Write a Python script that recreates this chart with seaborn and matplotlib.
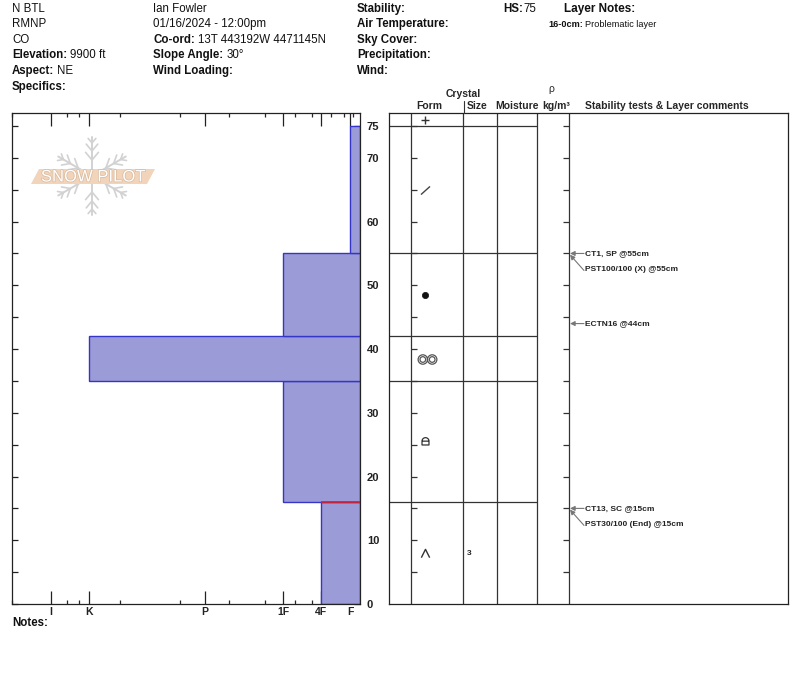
import numpy as np
import pandas as pd
import matplotlib
matplotlib.use("Agg")
import matplotlib.pyplot as plt
import matplotlib.patheffects as pe
from matplotlib.path import Path
from matplotlib.patches import Polygon
import seaborn as sns

# ---------------- data ----------------
layer_top = [75, 55, 42, 35, 16]
layer_bottom = [55, 42, 35, 16, 0]
layer_hardness = ["F", "1F", "K", "1F", "4F"]
layer_grain = ["DF", "RG", "MF", "FCxr", "DH"]
layer_size = ["", "", "", "", "3"]
surface_grain = "PP"
snow_height = 75

hardness_labels = ["I", "K", "P", "1F", "4F", "F"]
hardness_pos = [309, 271, 155, 77, 39, 10]          # scale position (from right edge)
hardness_minor = [7, 16, 29, 48, 65, 95, 131, 180, 240, 281, 293, 348]

test_names = ["CT1, SP", "PST100/100 (X)", "ECTN16", "CT13, SC", "PST30/100 (End)"]
test_depths = [55, 55, 44, 15, 15]

problem_top, problem_bottom = 16, 0

header_left = [("", "N BTL"), ("", "RMNP"), ("", "CO"), ("Elevation:", "9900 ft"),
               ("Aspect:", "NE"), ("Specifics:", "")]
header_mid = [("", "Ian Fowler"), ("", "01/16/2024 - 12:00pm"),
              ("Co-ord:", "13T 443192W 4471145N"), ("Slope Angle:", "30°"),
              ("Wind Loading:", "")]
header_right = [("Stability:", ""), ("Air Temperature:", ""), ("Sky Cover:", ""),
                ("Precipitation:", ""), ("Wind:", "")]

# ---------------- style ----------------
sns.set_style("white")
plt.rcParams["font.family"] = ["Liberation Sans", "DejaVu Sans"]

BAR_FILL = "#9b9bd8"
BAR_EDGE = "#3535c8"
LINE = "#333333"

W, H = 800, 676
fig = plt.figure(figsize=(W / 100, H / 100), dpi=100)


def rect(x0, y0, x1, y1):
    return [x0 / W, 1 - y1 / H, (x1 - x0) / W, (y1 - y0) / H]


Y0_PX, Y75_PX, TOP_PX = 604, 126, 113
PPC = (Y0_PX - Y75_PX) / 75.0
YMAX = (Y0_PX - TOP_PX) / PPC
AXIS_W = 348

# ---------------- hardness profile ----------------
ax = fig.add_axes(rect(12, TOP_PX, 360, Y0_PX))
df = pd.DataFrame({"top": layer_top, "bottom": layer_bottom, "hardness": layer_hardness})
df["mid"] = (df["top"] + df["bottom"]) / 2
df["hpos"] = df["hardness"].map(dict(zip(hardness_labels, hardness_pos)))
edges = sorted(set(layer_top + layer_bottom))
sns.histplot(data=df, y="mid", weights="hpos", bins=edges, ax=ax,
             color=BAR_FILL, edgecolor=BAR_EDGE, linewidth=1.0, alpha=1.0)
ax.set_xlim(AXIS_W, 0)
ax.set_ylim(0, YMAX)
ax.set_xlabel("")
ax.set_ylabel("")

prob_w = df.loc[df["top"] == problem_top, "hpos"].iloc[0]
ax.hlines(problem_top, 0, prob_w, color="#e02020", lw=1.2, zorder=5)

for s in ax.spines.values():
    s.set_color("#222222")
    s.set_linewidth(0.9)
    s.set_visible(True)

ax.set_xticks(hardness_pos)
ax.set_xticklabels(hardness_labels, fontweight="bold", fontsize=7.5)
ax.set_xticks(hardness_minor, minor=True)
ax.tick_params(axis="x", which="major", direction="in", length=9.5, width=0.9,
               top=True, bottom=True, pad=2, colors="#222222")
ax.tick_params(axis="x", which="minor", direction="in", length=3, width=0.9,
               top=True, bottom=True)
yt = list(range(0, 80, 5))
ax.set_yticks(yt)
ax.set_yticklabels([str(v) if (v % 10 == 0 or v == snow_height) else "" for v in yt],
                   fontweight="bold", fontsize=8)
ax.tick_params(axis="y", direction="in", length=4.5, width=0.9, left=True, right=True,
               labelleft=False, labelright=True, pad=5, colors="#222222")

# ---------------- table ----------------
ax2 = fig.add_axes(rect(389, TOP_PX, 788, Y0_PX))
ax2.set_xlim(389, 788)
ax2.set_ylim(0, YMAX)
ax2.set_xticks([])
ax2.set_yticks([])
for s in ax2.spines.values():
    s.set_color("#222222")
    s.set_linewidth(0.9)
    s.set_visible(True)

col_lines = [411, 463, 497, 537, 569]
ax2.vlines(col_lines, 0, YMAX, color=LINE, lw=0.9)
bounds = sorted(set(layer_top + layer_bottom) - {0})
ax2.hlines(bounds, 389, 537, color=LINE, lw=0.9)
tk = np.arange(5, snow_height + 1, 5)
ax2.hlines(tk, 411, 417, color=LINE, lw=0.9)
ax2.hlines(tk, 563, 569, color=LINE, lw=0.9)

# grain symbols
t = np.linspace(0, np.pi, 20)
lock_verts = np.vstack([np.c_[np.cos(t), 0.1 + np.sin(t)],
                        [[-1, -1], [1, -1], [1, 0.1]]])
lock = Path.make_compound_path(Path(lock_verts), Path([(-1, 0.1), (1, 0.1)]))
mf = Path.make_compound_path(Path.circle((-0.5, 0), 0.5), Path.circle((-0.5, 0), 0.3),
                             Path.circle((0.5, 0), 0.5), Path.circle((0.5, 0), 0.3))
symbols = {
    "PP": dict(marker="+", ms=5.5, mew=1.0, color="#333"),
    "DF": dict(marker=Path([(-1, -0.9), (1, 0.9)]), ms=6.5, mew=1.0, color="#444", mfc="none"),
    "RG": dict(marker="o", ms=4.5, mew=0.5, color="#111"),
    "MF": dict(marker=mf, ms=13.5, mew=0.9, color="#555", mfc="none"),
    "FCxr": dict(marker=lock, ms=5.5, mew=0.9, color="#333", mfc="none"),
    "DH": dict(marker=Path([(-1, -1), (0, 1), (1, -1)]), ms=6, mew=1.0, color="#333", mfc="none"),
}
ax2.plot([425], [(snow_height + YMAX) / 2], ls="none", **symbols[surface_grain])
for mid, g, sz in zip(df["mid"], layer_grain, layer_size):
    xs = 427 if g == "MF" else 425
    ax2.plot([xs], [mid], ls="none", **symbols[g])
    if sz:
        ax2.text(469, mid, sz, ha="center", va="center", fontsize=6, fontweight="bold")

# stability tests
seen = {}
for name, d in zip(test_names, test_depths):
    k = seen.get(d, 0)
    seen[d] = k + 1
    ytxt = d - k * 16 / PPC
    ax2.text(585, ytxt, f"{name} @{d}cm", ha="left", va="center", fontsize=6,
             fontweight="bold", color="#222")
    ax2.annotate("", xy=(570, d - (0.2 if k else 0)), xytext=(584, ytxt - (1.0 / PPC if k else 0)),
                 arrowprops=dict(arrowstyle="-|>", color="#777", lw=0.8,
                                 mutation_scale=7, shrinkA=0, shrinkB=0))

# ---------------- overlay (header, logo) ----------------
ov = fig.add_axes([0, 0, 1, 1], zorder=10)
ov.set_xlim(0, W)
ov.set_ylim(H, 0)
ov.axis("off")
ov.patch.set_alpha(0)
renderer = fig.canvas.get_renderer()


def label(x, y, bold, reg, size=8.3, color="#111", gap=True):
    xx = x
    if bold:
        tb = ov.text(x, y, bold, fontsize=size, fontweight="bold", va="baseline",
                     ha="left", color=color)
        xx += tb.get_window_extent(renderer).width + (0.28 * size * 100 / 72 if gap else 0.5)
    if reg:
        ov.text(xx, y, reg, fontsize=size, va="baseline", ha="left", color=color)


row0, dy = 11.6, 15.6
for i, (b, r) in enumerate(header_left):
    label(12, row0 + i * dy, b, r)
for i, (b, r) in enumerate(header_mid):
    label(153, row0 + i * dy, b, r)
for i, (b, r) in enumerate(header_right):
    label(357, row0 + i * dy, b, r)
label(503, row0, "HS:", str(snow_height), gap=False)
label(564, row0, "Layer Notes:", "", size=8.5)
label(548, row0 + dy - 0.5, f"{problem_top}-{problem_bottom}cm:", "Problematic layer", size=6.6)
label(12, 626, "Notes:", "")

# table header
hs = 7.5
ov.text(463, 94, "Crystal", ha="center", va="center", fontsize=hs, fontweight="bold")
ov.text(551, 89, "ρ", ha="center", va="center", fontsize=hs)
for txt, xc in [("Form", 429), ("Size", 477), ("Moisture", 517), ("kg/m³", 556)]:
    ov.text(xc, 106, txt, ha="center", va="center", fontsize=hs, fontweight="bold")
ov.text(585, 106, "Stability tests & Layer comments", ha="left", va="center",
        fontsize=hs, fontweight="bold")
ov.plot([463.5, 463.5], [101, 113], color=LINE, lw=0.8)

# logo watermark
cx, cy, arm = 92, 176, 39
FL = "#d2d2d2"
for k in range(6):
    ang = np.deg2rad(90 + 60 * k)
    ux, uy = np.cos(ang), -np.sin(ang)
    ov.plot([cx, cx + arm * ux], [cy, cy + arm * uy], color=FL, lw=1.4, solid_capstyle="round")
    for dist, L in [(16, 10), (25, 9), (33, 6)]:
        px, py = cx + dist * ux, cy + dist * uy
        for sgn in (1, -1):
            a2 = ang + sgn * np.deg2rad(40)
            ov.plot([px, px + L * np.cos(a2)], [py, py - L * np.sin(a2)], color=FL, lw=1.2,
                    solid_capstyle="round")
ov.add_patch(Polygon([(39, 169), (155, 169), (147, 184), (31, 184)], closed=True,
                     facecolor="#f1d4ba", edgecolor="none", zorder=5))
ov.text(93, 177, "SNOW PILOT", ha="center", va="center", fontsize=12, color="white",
        zorder=6, path_effects=[pe.withStroke(linewidth=1.0, foreground="#d8b89c")])

fig.savefig("out.png", dpi=100)
